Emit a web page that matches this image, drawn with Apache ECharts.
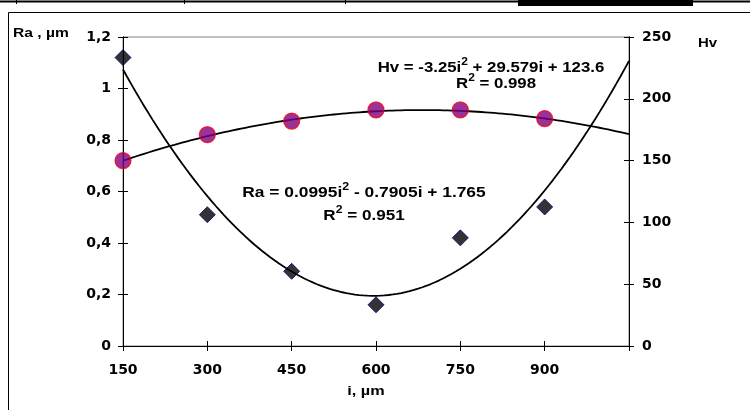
<!DOCTYPE html>
<html>
<head>
<meta charset="utf-8">
<script src="https://cdn.jsdelivr.net/npm/echarts@6/dist/echarts.min.js"></script>
<style>html,body{margin:0;padding:0;background:#fff}#c{width:750px;height:410px}</style>
</head>
<body>
<div id="c"></div>
<script>
// ---- data ----
var iValues = [150, 300, 450, 600, 750, 900];          // i, µm
var raValues = [1.12, 0.51, 0.29, 0.16, 0.42, 0.54];   // Ra, µm
var hvValues = [150, 171, 182, 191, 191, 184];         // Hv
var xTicks = [150, 300, 450, 600, 750, 900];
// trendline coefficients as printed on the chart (i = point index 1..)
var raCoef = [0.0995, -0.7905, 1.765];
var hvCoef = [-3.25, 29.579, 123.6];
var step = 150;
var trendEndIndex = 7;

function pairs(xs, ys) { return xs.map(function (x, k) { return [x, ys[k]]; }); }
function trend(coef) {
  var pts = [];
  for (var t = 1; t <= trendEndIndex + 1e-9; t += 0.05) {
    pts.push([t * step, coef[0] * t * t + coef[1] * t + coef[2]]);
  }
  return pts;
}

var FONT = "'Liberation Sans', Arial, sans-serif";
var TFONT = "'DejaVu Sans', 'Liberation Sans', sans-serif";
var chart = echarts.init(document.getElementById('c'), null, {renderer: 'canvas'});
var tickLbl = {color: '#000', fontFamily: TFONT, fontWeight: 'bold', fontSize: 14};
var axisLineBlk = {show: true, onZero: false, lineStyle: {color: '#000', width: 1}};

function eqText(x, y, main1, sup, main2, sx) {
  return {type: 'text', x: x, y: y, scaleX: sx || 1.2, scaleY: 1, style: {
    text: '{a|' + main1 + '}{s|' + sup + '}{a|' + main2 + '}', align: 'center', verticalAlign: 'middle', fill: '#000',
    rich: {a: {font: 'bold 14px ' + FONT, lineHeight: 18, verticalAlign: 'bottom'},
           s: {font: 'bold 10px ' + FONT, lineHeight: 18, verticalAlign: 'top', padding: [0, 0, 6, 0]}}}};
}
function label(x, y, txt, size, align, sx) {
  return {type: 'text', x: x, y: y, scaleX: sx || 1.2, scaleY: 1, style: {text: txt, font: 'bold ' + size + 'px ' + FONT, fill: '#000', align: align || 'left', verticalAlign: 'middle'}};
}

chart.setOption({
  animation: false,
  backgroundColor: '#fff',
  grid: {left: 123, right: 121, top: 37, bottom: 64, show: true, borderColor: '#808080', borderWidth: 1},
  xAxis: [
    {type: 'value', position: 'bottom', min: 150, max: 1050, interval: 150,
     axisLine: axisLineBlk, splitLine: {show: false},
     axisTick: {show: true, length: 5, inside: false, lineStyle: {color: '#000'}},
     axisLabel: Object.assign({margin: 17, formatter: function (v) { return xTicks.indexOf(v) >= 0 ? String(v) : ''; }}, tickLbl)},
    {type: 'value', position: 'bottom', min: 150, max: 1050, interval: 150,
     axisLine: axisLineBlk, splitLine: {show: false},
     axisTick: {show: true, length: 5, inside: true, lineStyle: {color: '#000'}},
     axisLabel: {show: false}}
  ],
  yAxis: [
    {type: 'value', position: 'left', min: 0, max: 1.2, interval: 0.2,
     axisLine: axisLineBlk, splitLine: {show: false},
     axisTick: {show: true, length: 5, lineStyle: {color: '#000'}},
     axisLabel: Object.assign({margin: 12, formatter: function (v) { return (Math.round(v * 10) / 10).toString().replace('.', ','); }}, tickLbl)},
    {type: 'value', position: 'right', min: 0, max: 250, interval: 50,
     axisLine: axisLineBlk, splitLine: {show: false},
     axisTick: {show: true, length: 5, lineStyle: {color: '#000'}},
     axisLabel: Object.assign({margin: 13}, tickLbl)},
    {type: 'value', position: 'left', min: 0, max: 1.2, interval: 0.2,
     axisLine: axisLineBlk, splitLine: {show: false},
     axisTick: {show: true, length: 5, inside: true, lineStyle: {color: '#000'}},
     axisLabel: {show: false}},
    {type: 'value', position: 'right', min: 0, max: 250, interval: 50,
     axisLine: axisLineBlk, splitLine: {show: false},
     axisTick: {show: true, length: 5, inside: true, lineStyle: {color: '#000'}},
     axisLabel: {show: false}}
  ],
  series: [
    {name: 'Ra trend', type: 'line', xAxisIndex: 0, yAxisIndex: 0, data: trend(raCoef),
     showSymbol: false, symbol: 'none', lineStyle: {color: '#000', width: 1.8}, z: 2},
    {name: 'Hv trend', type: 'line', xAxisIndex: 0, yAxisIndex: 1, data: trend(hvCoef),
     showSymbol: false, symbol: 'none', lineStyle: {color: '#000', width: 1.8}, z: 2},
    {name: 'Ra', type: 'scatter', xAxisIndex: 0, yAxisIndex: 0, data: pairs(iValues, raValues),
     symbol: 'diamond', symbolSize: 16, itemStyle: {color: '#000', borderColor: '#000080', borderWidth: 1}, z: 5},
    {name: 'Hv', type: 'scatter', xAxisIndex: 0, yAxisIndex: 1, data: pairs(iValues, hvValues),
     symbol: 'circle', symbolSize: 16, itemStyle: {color: '#800080', borderColor: '#ff0000', borderWidth: 1.2}, z: 5}
  ],
  graphic: [
    // outer frame
    {type: 'line', shape: {x1: 8.5, y1: 12.5, x2: 750, y2: 12.5}, style: {stroke: '#000', lineWidth: 1}},
    {type: 'line', shape: {x1: 8.5, y1: 12.5, x2: 8.5, y2: 410}, style: {stroke: '#000', lineWidth: 1}},
    // top strip
    {type: 'line', shape: {x1: 0, y1: 1.5, x2: 750, y2: 1.5}, style: {stroke: '#000', lineWidth: 2}},
    {type: 'line', shape: {x1: 16.5, y1: 0, x2: 16.5, y2: 4}, style: {stroke: '#000', lineWidth: 1}},
    {type: 'line', shape: {x1: 184.5, y1: 0, x2: 184.5, y2: 4}, style: {stroke: '#000', lineWidth: 1}},
    {type: 'line', shape: {x1: 345.5, y1: 0, x2: 345.5, y2: 4}, style: {stroke: '#000', lineWidth: 1}},
    {type: 'rect', shape: {x: 518, y: 0, width: 175, height: 6}, style: {fill: '#000'}},
    // axis titles
    label(13, 34, 'Ra , µm', 12, 'left', 1.3),
    label(698, 44, 'Hv', 12, 'left', 1.25),
    label(366, 391, 'i, µm', 13, 'center', 1.25),
    // equations
    eqText(491, 66, 'Hv = -3.25i', '2', ' + 29.579i + 123.6', 1.2),
    eqText(496, 82, 'R', '2', ' = 0.998', 1.2),
    eqText(364, 191, 'Ra = 0.0995i', '2', ' - 0.7905i + 1.765', 1.24),
    eqText(364, 214, 'R', '2', ' = 0.951', 1.22)
  ]
});
</script>
</body>
</html>
